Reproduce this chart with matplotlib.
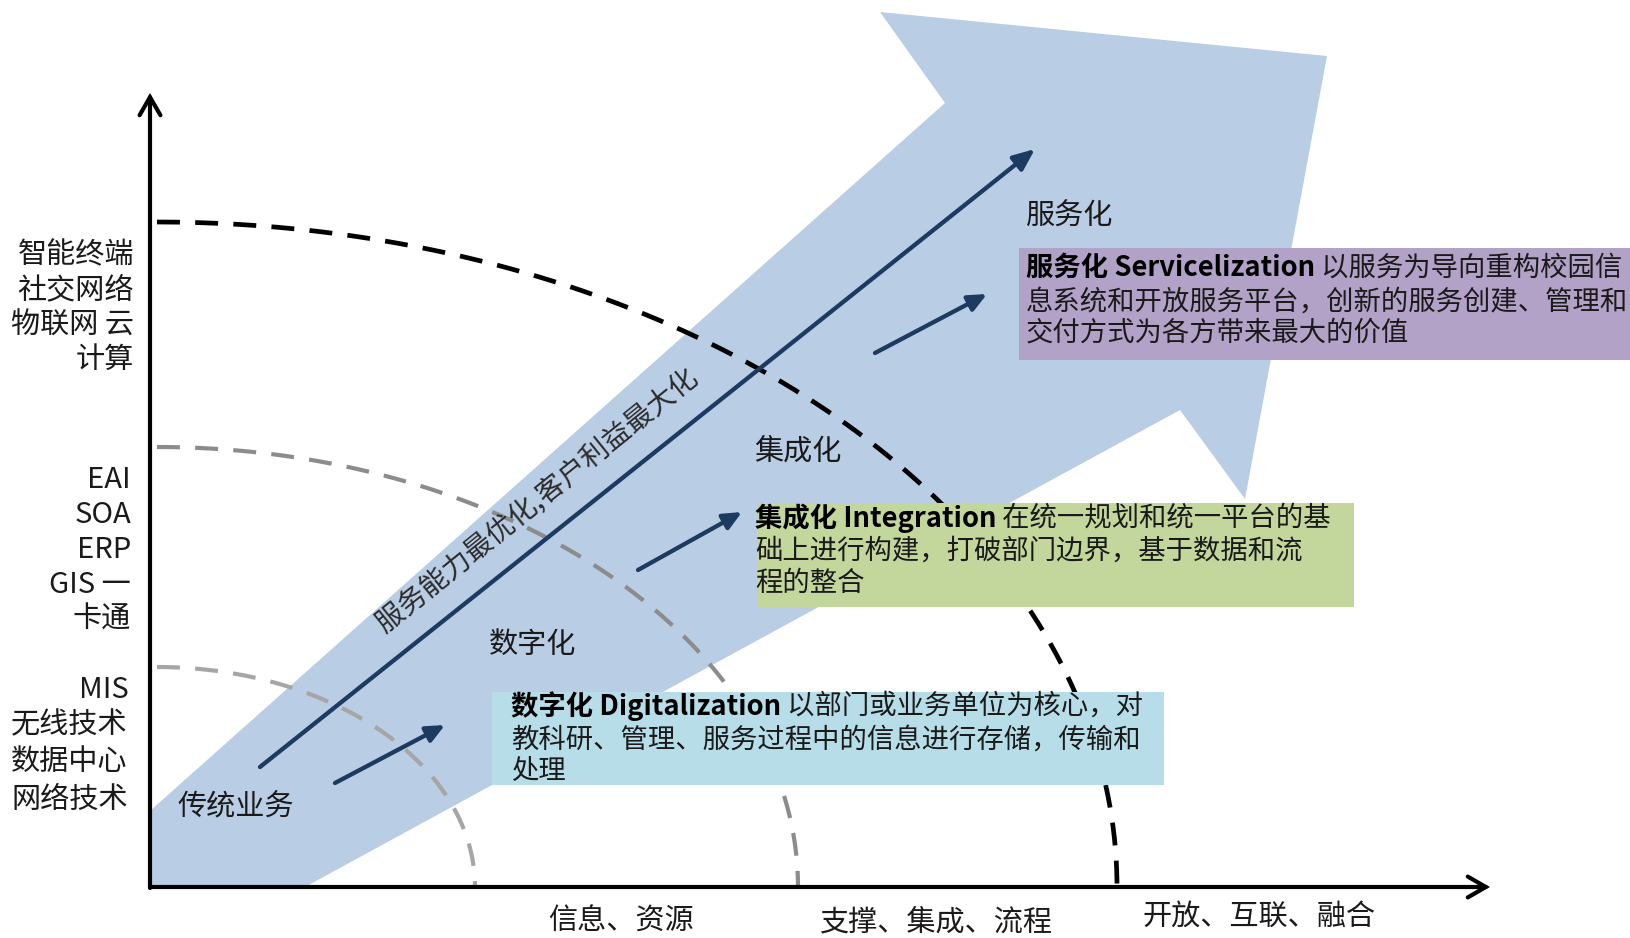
import numpy as np
import matplotlib
matplotlib.use("Agg")
import matplotlib.pyplot as plt
from matplotlib.patches import Polygon, Rectangle, FancyArrowPatch

plt.rcParams['font.family'] = ['Noto Sans CJK SC', 'DejaVu Sans']
plt.rcParams['lines.scale_dashes'] = False

# ---------------- content ----------------
y_group_top = ["智能终端", "社交网络", "物联网 云", "计算"]
y_group_mid = ["EAI", "SOA", "ERP", "GIS 一", "卡通"]
y_group_low = ["MIS", "无线技术", "数据中心", "网络技术"]
x_labels = ["信息、资源", "支撑、集成、流程", "开放、互联、融合"]
stages = ["传统业务", "数字化", "集成化", "服务化"]
slogan = "服务能力最优化,客户利益最大化"
box_titles = ["数字化 Digitalization", "集成化 Integration", "服务化 Servicelization"]
box_first = [" 以部门或业务单位为核心，对", " 在统一规划和统一平台的基", " 以服务为导向重构校园信"]
box_more = [["教科研、管理、服务过程中的信息进行存储，传输和", "处理"],
            ["础上进行构建，打破部门边界，基于数据和流", "程的整合"],
            ["息系统和开放服务平台，创新的服务创建、管理和", "交付方式为各方带来最大的价值"]]

# ---------------- layout (pixel space) ----------------
W, H = 1631, 938
fig = plt.figure(figsize=(W / 100, H / 100), dpi=100)
ax = fig.add_axes([0, 0, 1, 1])
ax.set_xlim(0, W)
ax.set_ylim(H, 0)
ax.axis('off')

ox, oy = 150, 887  # origin of the diagram axes
txt = '#1a1a1a'
navy = '#1d3a60'

# big light-blue arrow
big_arrow = [(ox + 1, 810), (945, 103), (880, 12), (1327, 56), (1245, 499),
             (1180, 410), (305, oy), (ox + 1, oy)]
ax.add_patch(Polygon(big_arrow, closed=True, facecolor='#b9cde5', edgecolor='none', zorder=1))

# dashed quarter ellipses
arcs = [((967, 665), 'black', 3.4), ((648, 440), '#8c8c8c', 3.0), ((325, 220), '#a6a6a6', 3.0)]
th = np.linspace(0, np.pi / 2, 300)
for (a, b), col, lw in arcs:
    ax.plot(ox + 7 + (a - 7) * np.sin(th), oy - b * np.cos(th), color=col, lw=lw,
            dashes=(16.5, 11), solid_capstyle='butt', dash_capstyle='butt', zorder=2)

# navy arrows
def arrow(p0, p1, hl, hw, lw=3.1):
    ax.add_patch(FancyArrowPatch(p0, p1, arrowstyle=f'-|>,head_length={hl},head_width={hw}',
                                 mutation_scale=1, color=navy, lw=lw, shrinkA=0, shrinkB=0,
                                 zorder=3))

arrow((260, 767), (1035, 149), 13, 5.5)
arrow((335, 783), (445, 725), 11, 5)
arrow((638, 570), (742, 512), 11, 5)
arrow((875, 353), (987, 294), 11, 5)

# axes with open chevron heads
for p0, p1 in [((ox, oy), (1490, oy)), ((ox, oy + 1), (ox, 93))]:
    ax.add_patch(FancyArrowPatch(p0, p1, arrowstyle='->,head_length=13,head_width=7.5',
                                 mutation_scale=1, color='black', lw=3.0, shrinkA=0,
                                 shrinkB=0, capstyle='round', joinstyle='miter', zorder=6))

# description boxes
boxes = [(492, 692, 1164, 785, '#b7dde8', 511, [706, 740, 771]),
         (757, 503, 1354, 607, '#c3d69b', 755, [518, 551, 583]),
         (1019, 248, 1631, 360, '#b3a2c7', 1026, [268, 302, 333])]
fs_box = 19.7
for i, (x0, y0, x1, y1, col, tx, ys) in enumerate(boxes):
    ax.add_patch(Rectangle((x0, y0), x1 - x0, y1 - y0, facecolor=col, edgecolor='none', zorder=4))
    t = ax.text(tx, ys[0], box_titles[i], fontsize=fs_box, fontweight='bold', color='black',
                ha='left', va='center', zorder=5)
    ax.annotate(box_first[i], xy=(1, 0.5), xycoords=t, ha='left', va='center',
                fontsize=fs_box, color=txt, zorder=5)
    for line, yy in zip(box_more[i], ys[1:]):
        ax.text(tx, yy, line, fontsize=fs_box, color=txt, ha='left', va='center', zorder=5)

# stage labels
stage_pos = [(177, 808), (489, 645), (754, 452), (1026, 217)]
for s, (x, y) in zip(stages, stage_pos):
    ax.text(x, y, s, fontsize=21, color=txt, ha='left', va='center', zorder=5)

# slogan along the main arrow
ax.text(538, 501, slogan, fontsize=20.3, color='#2b2b2b', rotation=38.8, style='italic',
        rotation_mode='anchor', ha='center', va='center', zorder=5)

# y-side labels
fs_lab = 21
for s, y in zip(y_group_top, [255, 290, 326, 360]):
    ax.text(134, y, s, fontsize=fs_lab, color=txt, ha='right', va='center')
for s, y in zip(y_group_mid, [480, 515, 550, 585, 620]):
    ax.text(131, y, s, fontsize=fs_lab, color=txt, ha='right', va='center')
ax.text(129, 690, y_group_low[0], fontsize=fs_lab, color=txt, ha='right', va='center')
for s, y in zip(y_group_low[1:], [725, 762, 800]):
    ax.text(11, y, s, fontsize=fs_lab, color=txt, ha='left', va='center')

# x-side labels
for s, (x, y) in zip(x_labels, [(621, 922), (936, 922), (1259, 917)]):
    ax.text(x, y, s, fontsize=21, color=txt, ha='center', va='center')

fig.savefig('out.png', dpi=100)
